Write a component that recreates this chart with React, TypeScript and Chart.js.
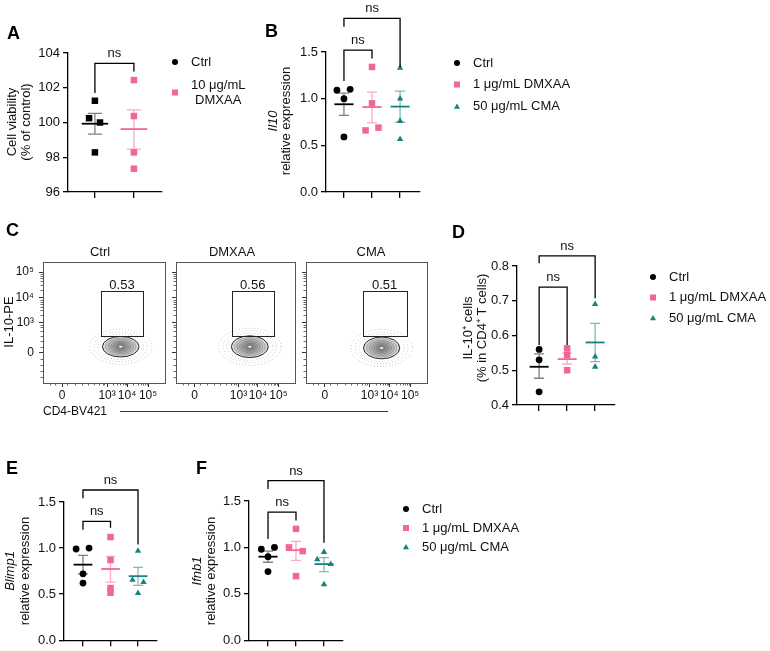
import { useEffect, useRef } from 'react';
import { Chart, registerables } from 'chart.js';

Chart.register(...registerables);

const FONT = '"Liberation Sans", Arial, Helvetica, sans-serif';
const CW = 770;
const CH = 651;
const INK = '#111111';
const BLACK = '#000000';
const PINK = '#F2649A';
const TEAL = '#17837E';
const BLACK_FADED = 'rgba(0,0,0,0.5)';
const PINK_FADED = 'rgba(242,100,154,0.55)';
const TEAL_FADED = 'rgba(23,131,126,0.55)';
const MEAN_HALF = 0.34;
const CAP_HALF = 0.18;

// ---------------- Panel A: cell viability ----------------
const aCtrl = [101.25, 100.25, 100.0, 98.28];
const aCtrlJitter = [0, -0.15, 0.13, 0];
const aDmxaa = [102.44, 100.37, 98.28, 97.34];
const aDmxaaJitter = [0, 0, 0, 0];
const aMeans = [99.93, 99.62];
const aSemLow = [99.33, 98.47];
const aSemHigh = [100.52, 100.73];
const aTicks = [96, 98, 100, 102, 104];
const aTickLabels = ['96', '98', '100', '102', '104'];

// ---------------- Panel B: Il10 ----------------
const bCtrl = [1.09, 1.1, 1.0, 0.59];
const bCtrlJitter = [-0.25, 0.22, 0, 0];
const bDmxaa = [1.34, 0.95, 0.66, 0.69];
const bDmxaaJitter = [0, 0, -0.23, 0.23];
const bCma = [1.33, 1.0, 0.76, 0.565];
const bCmaJitter = [0, 0, 0, 0];
const bMeans = [0.94, 0.91, 0.915];
const bSemLow = [0.82, 0.74, 0.75];
const bSemHigh = [1.06, 1.07, 1.08];

// ---------------- Panel D: IL-10+ cells ----------------
const dCtrl = [0.56, 0.53, 0.438];
const dDmxaa = [0.563, 0.544, 0.5];
const dCma = [0.69, 0.539, 0.51];
const dJitter = [0, 0, 0];
const dMeans = [0.51, 0.532, 0.58];
const dSemLow = [0.477, 0.518, 0.525];
const dSemHigh = [0.547, 0.549, 0.635];
const dTicks = [0.4, 0.5, 0.6, 0.7, 0.8];
const dTickLabels = ['0.4', '0.5', '0.6', '0.7', '0.8'];

// ---------------- Panel E: Blimp1 ----------------
const eCtrl = [0.99, 1.0, 0.72, 0.62];
const eCtrlJitter = [-0.25, 0.22, 0, 0];
const eDmxaa = [1.12, 0.87, 0.566, 0.515];
const eDmxaaJitter = [0, 0, 0, 0];
const eCma = [0.97, 0.655, 0.63, 0.51];
const eCmaJitter = [0, -0.2, 0.2, 0];
const eMeans = [0.82, 0.773, 0.695];
const eSemLow = [0.72, 0.63, 0.594];
const eSemHigh = [0.92, 0.91, 0.79];

// ---------------- Panel F: Ifnb1 ----------------
const fCtrl = [0.98, 1.0, 0.9, 0.74];
const fCtrlJitter = [-0.24, 0.23, 0, 0];
const fDmxaa = [1.2, 1.0, 0.96, 0.69];
const fDmxaaJitter = [0, -0.25, 0.24, 0];
const fCma = [0.95, 0.87, 0.82, 0.6];
const fCmaJitter = [0, -0.24, 0.24, 0];
const fMeans = [0.9, 0.97, 0.82];
const fSemLow = [0.84, 0.86, 0.74];
const fSemHigh = [0.96, 1.066, 0.89];

const exprTicks = [0, 0.5, 1.0, 1.5];
const exprTickLabels = ['0.0', '0.5', '1.0', '1.5'];

const legend3 = ['Ctrl', '1 μg/mL DMXAA', '50 μg/mL CMA'];

// ---------------- Panel C: flow cytometry ----------------
const cSamples = ['Ctrl', 'DMXAA', 'CMA'];
const cGatePercents = ['0.53', '0.56', '0.51'];
const cXTickPos = [0.156, 0.525, 0.689, 0.861];
const cXTickLabels = ['0', '10³', '10⁴', '10⁵'];
const cYTickPos = [0.25, 0.5, 0.708, 0.917];
const cYTickLabels = ['0', '10³', '10⁴', '10⁵'];
const cXMinorPos = [0.06, 0.1, 0.2, 0.26, 0.32, 0.37, 0.42, 0.46, 0.49, 0.5, 0.575, 0.61, 0.635, 0.655, 0.67, 0.68, 0.74, 0.775, 0.8, 0.82, 0.835, 0.85];
const cYMinorPos = [0.05, 0.1, 0.15, 0.2, 0.3, 0.35, 0.39, 0.43, 0.46, 0.48, 0.565, 0.6, 0.63, 0.65, 0.67, 0.69, 0.77, 0.81, 0.84, 0.865, 0.885, 0.9];
const cGateXLow = [0.475, 0.47, 0.47];
const cGateXHigh = [0.82, 0.82, 0.83];
const cGateYLow = [0.383, 0.383, 0.39];
const cGateYHigh = [0.758, 0.758, 0.758];
const cClusterX = [0.637, 0.62, 0.625];
const cClusterY = [0.3, 0.3, 0.29];
const cClusterSpreadX = [0.15, 0.155, 0.15];
const cClusterSpreadY = [0.085, 0.09, 0.09];
const cContourLevels = [1.0, 0.84, 0.7, 0.56, 0.43, 0.31, 0.2, 0.1];
const cHaloLevels = [1.25, 1.45, 1.7];

type Marker = 'circle' | 'rect' | 'triangle';
interface GroupSpec {
  values: number[];
  jitter: number[];
  mean: number;
  lo: number;
  hi: number;
  color: string;
  faded: string;
  marker: Marker;
}
interface BracketSpec { from: number; to: number; y: number; yFrom: number; yTo: number; label: string }
interface LegendItem { lines: string[]; y: number; color: string; marker: Marker }
interface DotPanelSpec {
  id: string;
  box: { left: number; right: number; top: number; bottom: number };
  xMin: number; xMax: number; yMin: number; yMax: number;
  yTicks: number[]; yTickLabels: string[];
  groups: GroupSpec[];
  brackets: BracketSpec[];
  title: { text: string; italic: boolean; x: number }[];
  titleCenterY: number;
  legend?: { markerX: number; textX: number; items: LegendItem[] };
  letter: { text: string; x: number; y: number };
}

const markerRadius: Record<Marker, number> = { circle: 3.4, rect: 4.6, triangle: 3.7 };

function drawMarker(ctx: CanvasRenderingContext2D, marker: Marker, x: number, y: number, color: string) {
  ctx.fillStyle = color;
  ctx.beginPath();
  if (marker === 'circle') {
    ctx.arc(x, y, 3.0, 0, Math.PI * 2);
  } else if (marker === 'rect') {
    ctx.rect(x - 3, y - 3, 6, 6);
  } else {
    const r = 3.5;
    for (let k = 0; k < 3; k++) {
      const a = (k * 2 * Math.PI) / 3;
      const px = x + Math.sin(a) * r;
      const py = y - Math.cos(a) * r + 0.6;
      if (k === 0) ctx.moveTo(px, py); else ctx.lineTo(px, py);
    }
    ctx.closePath();
  }
  ctx.fill();
}

function font(size: number, italic = false, bold = false) {
  return `${italic ? 'italic ' : ''}${bold ? 'bold ' : ''}${size}px ${FONT}`;
}

function drawRotatedText(ctx: CanvasRenderingContext2D, text: string, baselineX: number, cy: number, f: string) {
  ctx.save();
  ctx.translate(baselineX, cy);
  ctx.rotate(-Math.PI / 2);
  ctx.font = f;
  ctx.fillStyle = INK;
  ctx.textAlign = 'center';
  ctx.textBaseline = 'alphabetic';
  ctx.fillText(text, 0, 0);
  ctx.restore();
}

function makeDotChart(canvas: HTMLCanvasElement, p: DotPanelSpec): Chart {
  const YW = 36;
  const XH = 10;
  const extras = {
    id: 'dotExtras' + p.id,
    afterDatasetsDraw(chart: any) {
      const ctx: CanvasRenderingContext2D = chart.ctx;
      const xs = chart.scales.x;
      const ys = chart.scales.y;
      ctx.save();
      p.groups.forEach((g, i) => {
        const cx = xs.getPixelForValue(i + 1);
        const unit = xs.getPixelForValue(i + 2) - cx;
        const yMean = ys.getPixelForValue(g.mean);
        const yLo = ys.getPixelForValue(g.lo);
        const yHi = ys.getPixelForValue(g.hi);
        ctx.strokeStyle = g.faded;
        ctx.lineWidth = 1.3;
        ctx.beginPath();
        ctx.moveTo(cx, yLo); ctx.lineTo(cx, yHi);
        ctx.moveTo(cx - CAP_HALF * unit, yLo); ctx.lineTo(cx + CAP_HALF * unit, yLo);
        ctx.moveTo(cx - CAP_HALF * unit, yHi); ctx.lineTo(cx + CAP_HALF * unit, yHi);
        ctx.stroke();
        ctx.strokeStyle = g.color;
        ctx.lineWidth = 1.8;
        ctx.beginPath();
        ctx.moveTo(cx - MEAN_HALF * unit, yMean);
        ctx.lineTo(cx + MEAN_HALF * unit, yMean);
        ctx.stroke();
      });
      ctx.restore();
    },
    afterDraw(chart: any) {
      const ctx: CanvasRenderingContext2D = chart.ctx;
      const xs = chart.scales.x;
      const ys = chart.scales.y;
      ctx.save();
      p.brackets.forEach((b) => {
        const x1 = xs.getPixelForValue(b.from);
        const x2 = xs.getPixelForValue(b.to);
        const y = ys.getPixelForValue(b.y);
        const ya = ys.getPixelForValue(b.yFrom);
        const yb = ys.getPixelForValue(b.yTo);
        ctx.strokeStyle = BLACK;
        ctx.lineWidth = 1.3;
        ctx.beginPath();
        ctx.moveTo(x1, ya); ctx.lineTo(x1, y); ctx.lineTo(x2, y); ctx.lineTo(x2, yb);
        ctx.stroke();
        ctx.font = font(13);
        ctx.fillStyle = INK;
        ctx.textAlign = 'center';
        ctx.textBaseline = 'alphabetic';
        ctx.fillText(b.label, (x1 + x2) / 2, y - 6);
      });
      p.title.forEach((t) => drawRotatedText(ctx, t.text, t.x, p.titleCenterY, font(13, t.italic)));
      if (p.legend) {
        const lg = p.legend;
        lg.items.forEach((it) => {
          drawMarker(ctx, it.marker, lg.markerX, it.y, it.color);
          ctx.font = font(13);
          ctx.fillStyle = INK;
          ctx.textBaseline = 'middle';
          if (it.lines.length === 1) {
            ctx.textAlign = 'left';
            ctx.fillText(it.lines[0], lg.textX, it.y);
          } else {
            const w = Math.max(...it.lines.map((l) => ctx.measureText(l).width));
            ctx.textAlign = 'center';
            const n = it.lines.length;
            it.lines.forEach((l, k) => ctx.fillText(l, lg.textX + w / 2, it.y + (k - (n - 1) / 2) * 15));
          }
        });
      }
      ctx.font = font(18, false, true);
      ctx.fillStyle = BLACK;
      ctx.textAlign = 'left';
      ctx.textBaseline = 'alphabetic';
      ctx.fillText(p.letter.text, p.letter.x, p.letter.y);
      ctx.restore();
    },
  };

  return new Chart(canvas, {
    type: 'scatter',
    data: {
      datasets: p.groups.map((g, i) => ({
        data: g.values.map((v, j) => ({ x: i + 1 + g.jitter[j], y: v })),
        pointStyle: g.marker,
        pointRadius: markerRadius[g.marker],
        pointBackgroundColor: g.color,
        pointBorderColor: g.color,
        pointBorderWidth: 0,
        backgroundColor: g.color,
        borderColor: g.color,
        clip: false as any,
      })),
    },
    options: {
      responsive: false,
      animation: false,
      events: [],
      layout: {
        padding: {
          left: p.box.left - YW,
          right: CW - p.box.right,
          top: p.box.top,
          bottom: CH - p.box.bottom - XH,
        },
      },
      plugins: { legend: { display: false }, tooltip: { enabled: false } },
      scales: {
        x: {
          type: 'linear',
          min: p.xMin,
          max: p.xMax,
          afterBuildTicks: (s: any) => { s.ticks = p.groups.map((_, i) => ({ value: i + 1 })); },
          afterFit: (s: any) => { s.height = XH; },
          ticks: { callback: () => '', autoSkip: false, maxRotation: 0 },
          grid: { drawOnChartArea: false, drawTicks: true, tickLength: 6, color: BLACK, lineWidth: 1.3 },
          border: { display: true, color: BLACK, width: 1.3 },
        },
        y: {
          type: 'linear',
          min: p.yMin,
          max: p.yMax,
          afterBuildTicks: (s: any) => { s.ticks = p.yTicks.map((v) => ({ value: v })); },
          afterFit: (s: any) => { s.width = YW; },
          ticks: {
            callback: (_v: any, i: number) => p.yTickLabels[i],
            autoSkip: false,
            padding: 3,
            color: INK,
            font: { family: FONT, size: 13 },
          },
          grid: { drawOnChartArea: false, drawTicks: true, tickLength: 5, color: BLACK, lineWidth: 1.3 },
          border: { display: true, color: BLACK, width: 1.3 },
        },
      },
    } as any,
    plugins: [extras as any],
  });
}

const ctrlStyle = { color: BLACK, faded: BLACK_FADED, marker: 'circle' as Marker };
const dmxaaStyle = { color: PINK, faded: PINK_FADED, marker: 'rect' as Marker };
const cmaStyle = { color: TEAL, faded: TEAL_FADED, marker: 'triangle' as Marker };

function legend3Items(ys: number[]): LegendItem[] {
  return [
    { lines: [legend3[0]], y: ys[0], color: BLACK, marker: 'circle' },
    { lines: [legend3[1]], y: ys[1], color: PINK, marker: 'rect' },
    { lines: [legend3[2]], y: ys[2], color: TEAL, marker: 'triangle' },
  ];
}

const panelA: DotPanelSpec = {
  id: 'A',
  box: { left: 68, right: 162, top: 53, bottom: 192 },
  xMin: 0.31, xMax: 2.72, yMin: 96, yMax: 104,
  yTicks: aTicks, yTickLabels: aTickLabels,
  groups: [
    { values: aCtrl, jitter: aCtrlJitter, mean: aMeans[0], lo: aSemLow[0], hi: aSemHigh[0], color: BLACK, faded: BLACK_FADED, marker: 'rect' },
    { values: aDmxaa, jitter: aDmxaaJitter, mean: aMeans[1], lo: aSemLow[1], hi: aSemHigh[1], ...dmxaaStyle },
  ],
  brackets: [{ from: 1, to: 2, y: 103.4, yFrom: 101.7, yTo: 102.93, label: 'ns' }],
  title: [
    { text: 'Cell viability', italic: false, x: 15.5 },
    { text: '(% of control)', italic: false, x: 30 },
  ],
  titleCenterY: 122,
  legend: {
    markerX: 175, textX: 191,
    items: [
      { lines: ['Ctrl'], y: 62, color: BLACK, marker: 'circle' },
      { lines: ['10 μg/mL', 'DMXAA'], y: 92.5, color: PINK, marker: 'rect' },
    ],
  },
  letter: { text: 'A', x: 7, y: 39 },
};

const panelB: DotPanelSpec = {
  id: 'B',
  box: { left: 326, right: 420, top: 52, bottom: 192 },
  xMin: 0.36, xMax: 3.71, yMin: 0, yMax: 1.5,
  yTicks: exprTicks, yTickLabels: exprTickLabels,
  groups: [
    { values: bCtrl, jitter: bCtrlJitter, mean: bMeans[0], lo: bSemLow[0], hi: bSemHigh[0], ...ctrlStyle },
    { values: bDmxaa, jitter: bDmxaaJitter, mean: bMeans[1], lo: bSemLow[1], hi: bSemHigh[1], ...dmxaaStyle },
    { values: bCma, jitter: bCmaJitter, mean: bMeans[2], lo: bSemLow[2], hi: bSemHigh[2], ...cmaStyle },
  ],
  brackets: [
    { from: 1, to: 2, y: 1.52, yFrom: 1.19, yTo: 1.43, label: 'ns' },
    { from: 1, to: 3, y: 1.86, yFrom: 1.77, yTo: 1.34, label: 'ns' },
  ],
  title: [
    { text: 'Il10', italic: true, x: 276.5 },
    { text: 'relative expression', italic: false, x: 289.5 },
  ],
  titleCenterY: 121,
  legend: { markerX: 457, textX: 473, items: legend3Items([63, 84.5, 106.5]) },
  letter: { text: 'B', x: 265, y: 37 },
};

const panelD: DotPanelSpec = {
  id: 'D',
  box: { left: 517, right: 615, top: 266, bottom: 405 },
  xMin: 0.21, xMax: 3.71, yMin: 0.4, yMax: 0.8,
  yTicks: dTicks, yTickLabels: dTickLabels,
  groups: [
    { values: dCtrl, jitter: dJitter, mean: dMeans[0], lo: dSemLow[0], hi: dSemHigh[0], ...ctrlStyle },
    { values: dDmxaa, jitter: dJitter, mean: dMeans[1], lo: dSemLow[1], hi: dSemHigh[1], ...dmxaaStyle },
    { values: dCma, jitter: dJitter, mean: dMeans[2], lo: dSemLow[2], hi: dSemHigh[2], ...cmaStyle },
  ],
  brackets: [
    { from: 1, to: 2, y: 0.739, yFrom: 0.573, yTo: 0.573, label: 'ns' },
    { from: 1, to: 3, y: 0.829, yFrom: 0.808, yTo: 0.707, label: 'ns' },
  ],
  title: [
    { text: 'IL-10⁺ cells', italic: false, x: 471.5 },
    { text: '(% in CD4⁺ T cells)', italic: false, x: 485.5 },
  ],
  titleCenterY: 328,
  legend: { markerX: 653, textX: 669, items: legend3Items([277, 297.5, 318]) },
  letter: { text: 'D', x: 452, y: 238 },
};

const panelE: DotPanelSpec = {
  id: 'E',
  box: { left: 64, right: 157, top: 502, bottom: 642 },
  xMin: 0.31, xMax: 3.69, yMin: 0, yMax: 1.5,
  yTicks: exprTicks, yTickLabels: exprTickLabels,
  groups: [
    { values: eCtrl, jitter: eCtrlJitter, mean: eMeans[0], lo: eSemLow[0], hi: eSemHigh[0], ...ctrlStyle },
    { values: eDmxaa, jitter: eDmxaaJitter, mean: eMeans[1], lo: eSemLow[1], hi: eSemHigh[1], ...dmxaaStyle },
    { values: eCma, jitter: eCmaJitter, mean: eMeans[2], lo: eSemLow[2], hi: eSemHigh[2], ...cmaStyle },
  ],
  brackets: [
    { from: 1, to: 2, y: 1.29, yFrom: 1.2, yTo: 1.22, label: 'ns' },
    { from: 1, to: 3, y: 1.63, yFrom: 1.54, yTo: 1.04, label: 'ns' },
  ],
  title: [
    { text: 'Blimp1', italic: true, x: 13.5 },
    { text: 'relative expression', italic: false, x: 28.5 },
  ],
  titleCenterY: 571,
  letter: { text: 'E', x: 6, y: 474 },
};

const panelF: DotPanelSpec = {
  id: 'F',
  box: { left: 249, right: 343, top: 501, bottom: 642 },
  xMin: 0.32, xMax: 3.68, yMin: 0, yMax: 1.5,
  yTicks: exprTicks, yTickLabels: exprTickLabels,
  groups: [
    { values: fCtrl, jitter: fCtrlJitter, mean: fMeans[0], lo: fSemLow[0], hi: fSemHigh[0], ...ctrlStyle },
    { values: fDmxaa, jitter: fDmxaaJitter, mean: fMeans[1], lo: fSemLow[1], hi: fSemHigh[1], ...dmxaaStyle },
    { values: fCma, jitter: fCmaJitter, mean: fMeans[2], lo: fSemLow[2], hi: fSemHigh[2], ...cmaStyle },
  ],
  brackets: [
    { from: 1, to: 2, y: 1.38, yFrom: 1.09, yTo: 1.29, label: 'ns' },
    { from: 1, to: 3, y: 1.72, yFrom: 1.63, yTo: 1.05, label: 'ns' },
  ],
  title: [
    { text: 'Ifnb1', italic: true, x: 201 },
    { text: 'relative expression', italic: false, x: 215 },
  ],
  titleCenterY: 571,
  legend: { markerX: 406, textX: 422, items: legend3Items([509, 528, 547]) },
  letter: { text: 'F', x: 196, y: 474 },
};

// ---------------- flow panel ----------------
const flowBoxes = [
  { left: 43, right: 165 },
  { left: 176, right: 295 },
  { left: 306, right: 427 },
];
const FLOW_TOP = 262;
const FLOW_BOTTOM = 383;
const flowTitleX = [100, 232, 371];

function makeFlowChart(canvas: HTMLCanvasElement, i: number): Chart {
  const first = i === 0;
  const YW = first ? 40 : 5;
  const XH = 20;
  const box = flowBoxes[i];
  const extras = {
    id: 'flowExtras' + i,
    afterDraw(chart: any) {
      const ctx: CanvasRenderingContext2D = chart.ctx;
      const xs = chart.scales.x;
      const ys = chart.scales.y;
      const a = chart.chartArea;
      ctx.save();
      // minor ticks
      ctx.strokeStyle = '#444';
      ctx.lineWidth = 0.8;
      ctx.beginPath();
      cXMinorPos.forEach((v) => {
        const px = Math.round(xs.getPixelForValue(v)) + 0.5;
        ctx.moveTo(px, a.bottom); ctx.lineTo(px, a.bottom + 2.5);
      });
      cYMinorPos.forEach((v) => {
        const py = Math.round(ys.getPixelForValue(v)) + 0.5;
        ctx.moveTo(a.left, py); ctx.lineTo(a.left - 2.5, py);
      });
      ctx.stroke();
      // contour cluster
      const cx = xs.getPixelForValue(cClusterX[i]);
      const cy = ys.getPixelForValue(cClusterY[i]);
      const rx = xs.getPixelForValue(cClusterX[i] + cClusterSpreadX[i]) - cx;
      const ry = cy - ys.getPixelForValue(cClusterY[i] + cClusterSpreadY[i]);
      ctx.setLineDash([0.7, 2.4]);
      ctx.strokeStyle = 'rgba(0,0,0,0.35)';
      ctx.lineWidth = 0.9;
      cHaloLevels.forEach((lv) => {
        ctx.beginPath();
        ctx.ellipse(cx, cy, rx * lv, ry * lv, 0, 0, Math.PI * 2);
        ctx.stroke();
      });
      ctx.setLineDash([]);
      cContourLevels.forEach((lv, k) => {
        ctx.beginPath();
        ctx.ellipse(cx, cy, rx * lv, ry * lv, 0, 0, Math.PI * 2);
        ctx.fillStyle = k === 0 ? 'rgba(150,150,150,0.35)' : 'rgba(90,90,90,0.14)';
        ctx.fill();
        ctx.strokeStyle = k === 0 ? 'rgba(20,20,20,0.9)' : 'rgba(60,60,60,0.4)';
        ctx.lineWidth = k === 0 ? 1 : 0.7;
        ctx.stroke();
      });
      ctx.beginPath();
      ctx.ellipse(cx, cy, 1.8, 1.0, 0, 0, Math.PI * 2);
      ctx.fillStyle = 'rgba(255,255,255,0.85)';
      ctx.fill();
      // gate
      const gx1 = xs.getPixelForValue(cGateXLow[i]);
      const gx2 = xs.getPixelForValue(cGateXHigh[i]);
      const gy1 = ys.getPixelForValue(cGateYHigh[i]);
      const gy2 = ys.getPixelForValue(cGateYLow[i]);
      ctx.strokeStyle = '#222';
      ctx.lineWidth = 1;
      ctx.strokeRect(Math.round(gx1) + 0.5, Math.round(gy1) + 0.5, Math.round(gx2 - gx1), Math.round(gy2 - gy1));
      ctx.font = font(13);
      ctx.fillStyle = INK;
      ctx.textAlign = 'center';
      ctx.textBaseline = 'alphabetic';
      ctx.fillText(cGatePercents[i], (gx1 + gx2) / 2, gy1 - 2);
      // frame
      ctx.strokeStyle = '#555';
      ctx.lineWidth = 1;
      ctx.strokeRect(Math.round(a.left) + 0.5, Math.round(a.top) + 0.5, Math.round(a.right - a.left), Math.round(a.bottom - a.top));
      // sample title
      ctx.font = font(13);
      ctx.fillStyle = INK;
      ctx.textAlign = 'center';
      ctx.textBaseline = 'middle';
      ctx.fillText(cSamples[i], flowTitleX[i], 252);
      if (first) {
        drawRotatedText(ctx, 'IL-10-PE', 12.5, 322, font(13));
        ctx.font = font(12);
        ctx.textAlign = 'left';
        ctx.textBaseline = 'middle';
        ctx.fillStyle = INK;
        ctx.fillText('CD4-BV421', 43, 412);
        ctx.strokeStyle = '#333';
        ctx.lineWidth = 1;
        ctx.beginPath();
        ctx.moveTo(120, 411.5);
        ctx.lineTo(388, 411.5);
        ctx.stroke();
        ctx.font = font(18, false, true);
        ctx.fillStyle = BLACK;
        ctx.textBaseline = 'alphabetic';
        ctx.fillText('C', 6, 236);
      }
      ctx.restore();
    },
  };
  return new Chart(canvas, {
    type: 'scatter',
    data: { datasets: [{ data: [] }] },
    options: {
      responsive: false,
      animation: false,
      events: [],
      layout: {
        padding: {
          left: box.left - YW,
          right: CW - box.right,
          top: FLOW_TOP,
          bottom: CH - FLOW_BOTTOM - XH,
        },
      },
      plugins: { legend: { display: false }, tooltip: { enabled: false } },
      scales: {
        x: {
          type: 'linear', min: 0, max: 1,
          afterBuildTicks: (s: any) => { s.ticks = cXTickPos.map((v) => ({ value: v })); },
          afterFit: (s: any) => { s.height = XH; },
          ticks: {
            callback: (_v: any, k: number) => cXTickLabels[k],
            autoSkip: false, maxRotation: 0, minRotation: 0, padding: 1,
            color: INK, font: { family: FONT, size: 12 },
          },
          grid: { drawOnChartArea: false, tickLength: 4, color: '#333', lineWidth: 1 },
          border: { display: true, color: '#555', width: 1 },
        },
        y: {
          type: 'linear', min: 0, max: 1,
          afterBuildTicks: (s: any) => { s.ticks = cYTickPos.map((v) => ({ value: v })); },
          afterFit: (s: any) => { s.width = YW; },
          ticks: {
            callback: (_v: any, k: number) => (first ? cYTickLabels[k] : ''),
            autoSkip: false, padding: 5,
            color: INK, font: { family: FONT, size: 12 },
          },
          grid: { drawOnChartArea: false, tickLength: 4, color: '#333', lineWidth: 1 },
          border: { display: true, color: '#555', width: 1 },
        },
      },
    } as any,
    plugins: [extras as any],
  });
}

const builders: ((c: HTMLCanvasElement) => Chart)[] = [
  (c) => makeDotChart(c, panelA),
  (c) => makeDotChart(c, panelB),
  (c) => makeFlowChart(c, 0),
  (c) => makeFlowChart(c, 1),
  (c) => makeFlowChart(c, 2),
  (c) => makeDotChart(c, panelD),
  (c) => makeDotChart(c, panelE),
  (c) => makeDotChart(c, panelF),
];

function ChartLayer({ build }: { build: (c: HTMLCanvasElement) => Chart }) {
  const ref = useRef<HTMLCanvasElement>(null);
  useEffect(() => {
    if (!ref.current) return;
    const chart = build(ref.current);
    return () => chart.destroy();
  }, [build]);
  return (
    <canvas
      ref={ref}
      width={CW}
      height={CH}
      style={{ position: 'absolute', left: 0, top: 0, width: CW, height: CH }}
    />
  );
}

export default function App() {
  return (
    <div style={{ position: 'absolute', left: 0, top: 0, width: CW, height: CH, background: '#ffffff', overflow: 'hidden' }}>
      {builders.map((b, i) => (
        <ChartLayer key={i} build={b} />
      ))}
    </div>
  );
}
